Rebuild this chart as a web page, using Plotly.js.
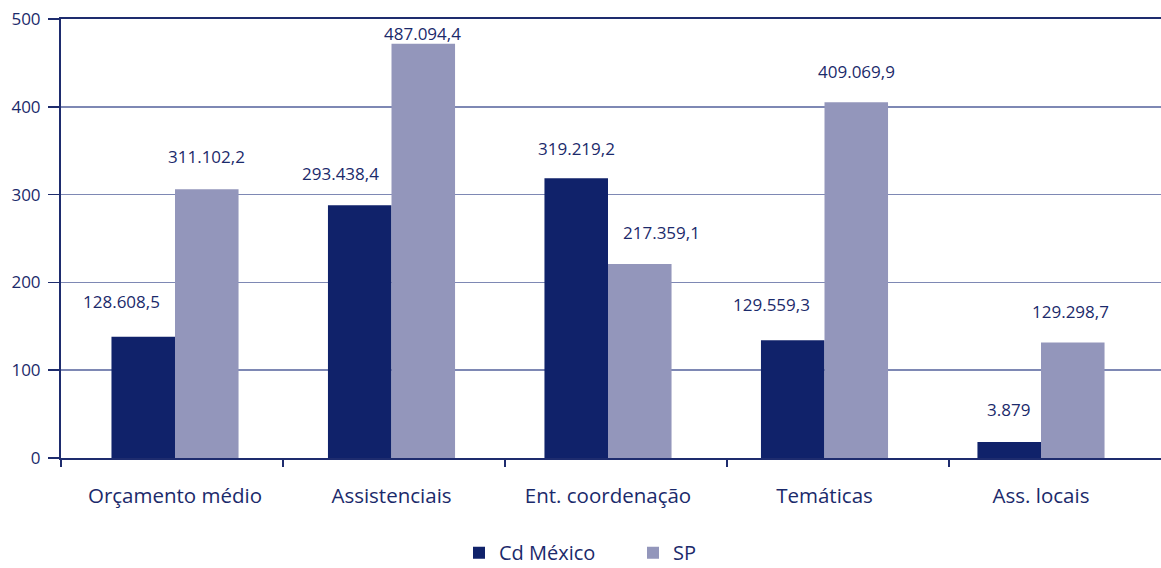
<!DOCTYPE html>
<html>
<head>
<meta charset="utf-8">
<script src="https://cdn.plot.ly/plotly-3.0.1.min.js"></script>
<style>html,body{margin:0;padding:0;background:#fff;}#chart{width:1161px;height:568px;}</style>
</head>
<body>
<div id="chart"></div>
<script>
// Categories and series (bar heights as drawn, in thousands)
const categories = ["Orçamento médio", "Assistenciais", "Ent. coordenação", "Temáticas", "Ass. locais"];
const seriesNames = ["Cd México", "SP"];
const cdMexico = [138, 288, 318.6, 134, 18.2];
const sp = [306, 471.7, 220.9, 405.2, 131.6];
const cdMexicoLabels = ["128.608,5", "293.438,4", "319.219,2", "129.559,3", "3.879"];
const spLabels = ["311.102,2", "487.094,4", "217.359,1", "409.069,9", "129.298,7"];
const yTicks = [0, 100, 200, 300, 400, 500];

// label placement nudges (px), styling only
const cdDx = [-22, -19, 0, -21, -1];
const cdDy = [35, 32, 30, 36, 33];
const spDx = [0, -1, 22, 0, -2];
const spDy = [33, 10, 32, 31, 31];

const navy = "#10226a";
const lilac = "#9396bb";
const textColor = "#1b2a6b";
const axisColor = "#1e2c6e";
const font = "Open Sans, Noto Sans, sans-serif";

const traces = [
  {type: "bar", name: seriesNames[0], x: categories, y: cdMexico, marker: {color: navy, line: {width: 0}}, hoverinfo: "none"},
  {type: "bar", name: seriesNames[1], x: categories, y: sp, marker: {color: lilac, line: {width: 0}}, hoverinfo: "none"},
  // empty helper trace so the divider-tick axis is drawn
  {type: "scatter", x: [], y: [], xaxis: "x2", yaxis: "y", showlegend: false, hoverinfo: "skip"}
];

const halfBar = 31.75;
const annotations = [];
categories.forEach((c, i) => {
  annotations.push({x: c, y: cdMexico[i], xref: "x", yref: "y", text: cdMexicoLabels[i], showarrow: false,
    xshift: -halfBar + cdDx[i], yshift: cdDy[i], font: {family: font, size: 17, color: textColor}});
  annotations.push({x: c, y: sp[i], xref: "x", yref: "y", text: spLabels[i], showarrow: false,
    xshift: halfBar + spDx[i], yshift: spDy[i], font: {family: font, size: 17, color: textColor}});
});

// category divider ticks (decorative), spaced as in the original artwork
const dividerStep = 222;
const dividerTicks = [0, 1, 2, 3, 4].map(k => k * dividerStep);

const layout = {
  width: 1161, height: 568,
  margin: {l: 61, r: 0, t: 19, b: 110, pad: 0, autoexpand: false},
  paper_bgcolor: "#fff", plot_bgcolor: "#fff",
  font: {family: font, color: textColor},
  barmode: "group", bargap: 0.413, bargroupgap: 0,
  showlegend: true,
  legend: {orientation: "h", x: 0.52, xanchor: "center", yref: "container", y: 0.027, yanchor: "middle",
    font: {family: font, size: 20, color: textColor}, entrywidth: 129, itemwidth: 30, traceorder: "normal"},
  xaxis: {
    type: "category", range: [-0.5266, 4.5543], fixedrange: true,
    showline: true, linecolor: axisColor, linewidth: 2, mirror: true,
    ticks: "", showgrid: false, zeroline: false,
    tickfont: {family: font, size: 20.5, color: textColor}, ticklabelstandoff: 18
  },
  xaxis2: {
    overlaying: "x", anchor: "y", side: "bottom", range: [0, 1100], fixedrange: true,
    tickvals: dividerTicks, showticklabels: false, ticks: "outside", ticklen: 8, tickwidth: 1.5, tickcolor: axisColor,
    showline: false, showgrid: false, zeroline: false
  },
  yaxis: {
    range: [0, 500], tickvals: yTicks, ticktext: yTicks.map(String), fixedrange: true,
    showline: true, linecolor: axisColor, linewidth: 2,
    ticks: "outside", ticklen: 11, tickwidth: 1.5, tickcolor: axisColor,
    showgrid: true, gridcolor: "#7e88b4", gridwidth: 1.5, zeroline: false,
    tickfont: {family: font, size: 17, color: textColor}, ticklabelstandoff: 4
  },
  annotations: annotations
};

Plotly.newPlot("chart", traces, layout, {displayModeBar: false, staticPlot: true});
</script>
</body>
</html>
